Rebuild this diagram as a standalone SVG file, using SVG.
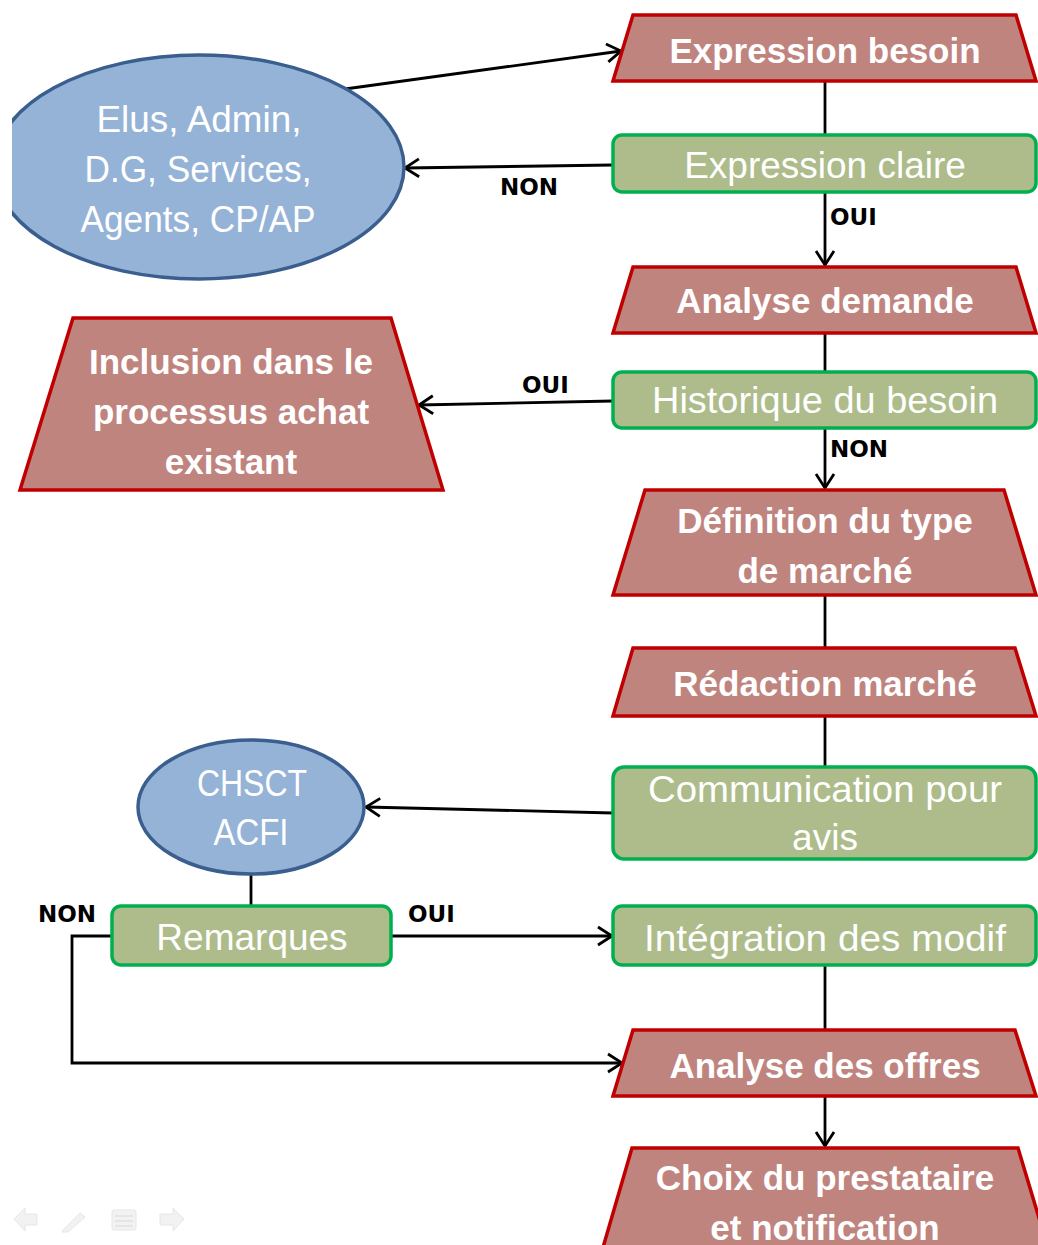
<svg xmlns="http://www.w3.org/2000/svg" width="1038" height="1245" viewBox="0 0 1038 1245">
<defs>
<style>
.trap{fill:#C0847F;stroke:#C00000;stroke-width:3.5;stroke-linejoin:miter}
.box{fill:#ADBC8A;stroke:#00B050;stroke-width:3.5}
.ell{fill:#95B3D7;stroke:#3A5F8F;stroke-width:3.5}
.tb{font-family:"Liberation Sans",Arial,sans-serif;font-weight:bold;font-size:35px;fill:#fff;text-anchor:middle}
.tr{font-family:"Liberation Sans",Arial,sans-serif;font-size:37px;fill:#fff;text-anchor:middle}
.lbl{font-family:"DejaVu Sans",sans-serif;font-weight:bold;font-size:23px;fill:#000}
.con{fill:none;stroke:#000;stroke-width:2.8}
.arr{marker-end:url(#ah)}
.ico{fill:#F2F2F2;stroke:#E6E6E6;stroke-width:1}
</style>
<marker id="ah" markerUnits="userSpaceOnUse" markerWidth="20" markerHeight="20" refX="15" refY="10" orient="auto" overflow="visible">
<path d="M1,1 L15,10 L1,19" fill="none" stroke="#000" stroke-width="2.8"/>
</marker>
<clipPath id="clipL"><rect x="12" y="0" width="1026" height="1245"/></clipPath>
</defs>
<rect width="1038" height="1245" fill="#fff"/>

<g id="connectors">
<line class="con arr" x1="345" y1="89" x2="621" y2="51"/>
<line class="con" x1="825" y1="81" x2="825" y2="135"/>
<line class="con arr" x1="613" y1="165" x2="405" y2="168"/>
<line class="con arr" x1="825" y1="192" x2="825" y2="265"/>
<line class="con" x1="825" y1="333" x2="825" y2="372"/>
<line class="con arr" x1="613" y1="401" x2="419" y2="405"/>
<line class="con arr" x1="825" y1="428" x2="825" y2="488"/>
<line class="con" x1="825" y1="595" x2="825" y2="648"/>
<line class="con" x1="825" y1="716" x2="825" y2="767"/>
<line class="con arr" x1="613" y1="813" x2="366" y2="807"/>
<line class="con" x1="251" y1="874" x2="251" y2="906"/>
<line class="con arr" x1="391" y1="936" x2="612" y2="936"/>
<polyline class="con arr" points="112,936 72,936 72,1063 622,1063"/>
<line class="con" x1="825" y1="965" x2="825" y2="1030"/>
<line class="con arr" x1="825" y1="1096" x2="825" y2="1146"/>
<text class="lbl" x="500" y="195">NON</text>
<text class="lbl" x="830" y="225">OUI</text>
<text class="lbl" x="522" y="393">OUI</text>
<text class="lbl" x="830" y="457">NON</text>
<text class="lbl" x="38" y="922">NON</text>
<text class="lbl" x="408" y="922">OUI</text>
</g>

<g id="n-acteurs" clip-path="url(#clipL)">
<ellipse class="ell" cx="199" cy="167" rx="205" ry="112"/>
<text class="tr" x="199" y="132" textLength="205" lengthAdjust="spacingAndGlyphs">Elus, Admin,</text>
<text class="tr" x="198" y="182" textLength="227" lengthAdjust="spacingAndGlyphs">D.G, Services,</text>
<text class="tr" x="198" y="232" textLength="235" lengthAdjust="spacingAndGlyphs">Agents, CP/AP</text>
</g>

<g id="n-expression-besoin">
<polygon class="trap" points="633,15 1016,15 1036,81 613,81"/>
<text class="tb" x="825" y="63">Expression besoin</text>
</g>

<g id="n-expression-claire">
<rect class="box" x="613" y="135" width="423" height="57" rx="9"/>
<text class="tr" x="825" y="178">Expression claire</text>
</g>

<g id="n-analyse-demande">
<polygon class="trap" points="633,267 1016,267 1036,333 613,333"/>
<text class="tb" x="825" y="313">Analyse demande</text>
</g>

<g id="n-historique">
<rect class="box" x="613" y="372" width="423" height="56" rx="9"/>
<text class="tr" x="825" y="413" textLength="346" lengthAdjust="spacingAndGlyphs">Historique du besoin</text>
</g>

<g id="n-inclusion">
<polygon class="trap" points="73,318 391,318 443,490 20,490"/>
<text class="tb" x="231" y="374">Inclusion dans le</text>
<text class="tb" x="231" y="424">processus achat</text>
<text class="tb" x="231" y="474">existant</text>
</g>

<g id="n-definition">
<polygon class="trap" points="645,490 1004,490 1036,595 613,595"/>
<text class="tb" x="825" y="533">Définition du type</text>
<text class="tb" x="825" y="583">de marché</text>
</g>

<g id="n-redaction">
<polygon class="trap" points="633,648 1015,648 1036,716 613,716"/>
<text class="tb" x="825" y="696">Rédaction marché</text>
</g>

<g id="n-communication">
<rect class="box" x="613" y="767" width="423" height="92" rx="11"/>
<text class="tr" x="825" y="802" textLength="354" lengthAdjust="spacingAndGlyphs">Communication pour</text>
<text class="tr" x="825" y="850">avis</text>
</g>

<g id="n-chsct">
<ellipse class="ell" cx="251" cy="807" rx="113" ry="67"/>
<text class="tr" x="252" y="796" textLength="110" lengthAdjust="spacingAndGlyphs">CHSCT</text>
<text class="tr" x="251" y="845" textLength="75" lengthAdjust="spacingAndGlyphs">ACFI</text>
</g>

<g id="n-remarques">
<rect class="box" x="112" y="906" width="279" height="59" rx="9"/>
<text class="tr" x="252" y="950">Remarques</text>
</g>

<g id="n-integration">
<rect class="box" x="613" y="906" width="423" height="59" rx="9"/>
<text class="tr" x="825" y="951" textLength="362" lengthAdjust="spacingAndGlyphs">Intégration des modif</text>
</g>

<g id="n-analyse-offres">
<polygon class="trap" points="633,1030 1015,1030 1036,1096 613,1096"/>
<text class="tb" x="825" y="1078">Analyse des offres</text>
</g>

<g id="n-choix">
<polygon class="trap" points="632,1148 1018,1148 1054,1268 597,1268"/>
<text class="tb" x="825" y="1190">Choix du prestataire</text>
<text class="tb" x="825" y="1240">et notification</text>
</g>

<g id="nav-icons">
<polygon class="ico" points="14,1219 25,1208 25,1214 37,1214 37,1225 25,1225 25,1231"/>
<polygon class="ico" points="63,1230 80,1213 85,1217 68,1232 62,1232"/>
<rect class="ico" x="112" y="1210" width="24" height="20" rx="2"/>
<line x1="115" y1="1216" x2="133" y2="1216" stroke="#E0E0E0" stroke-width="1.5"/>
<line x1="115" y1="1221" x2="133" y2="1221" stroke="#E0E0E0" stroke-width="1.5"/>
<line x1="115" y1="1226" x2="133" y2="1226" stroke="#E0E0E0" stroke-width="1.5"/>
<polygon class="ico" points="184,1219 173,1208 173,1214 160,1214 160,1225 173,1225 173,1231"/>
</g>
</svg>
